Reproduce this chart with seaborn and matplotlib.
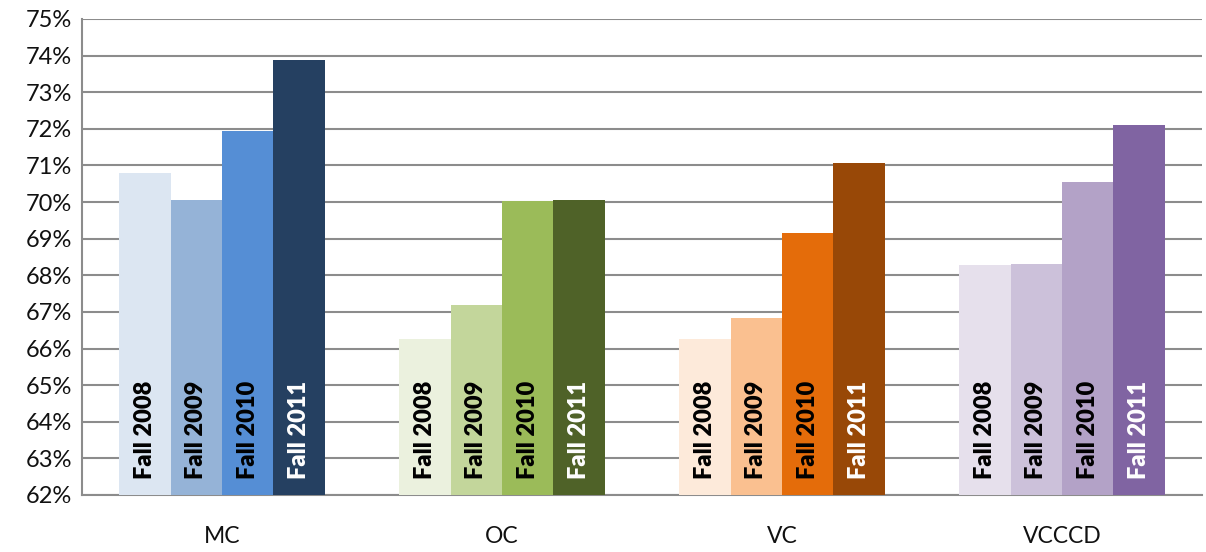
import numpy as np
import pandas as pd
import matplotlib
matplotlib.use("Agg")
import matplotlib.pyplot as plt
import seaborn as sns
from matplotlib.ticker import PercentFormatter

# ----------------------------
# Data
# ----------------------------
campuses = ["MC", "OC", "VC", "VCCCD"]
terms = ["Fall 2008", "Fall 2009", "Fall 2010", "Fall 2011"]
mc = [70.8, 70.06, 71.95, 73.88]
oc = [66.26, 67.2, 70.03, 70.06]
vc = [66.26, 66.84, 69.16, 71.08]
vcccd = [68.28, 68.31, 70.55, 72.1]

colors = {
    "MC": ["#DCE6F2", "#95B3D7", "#558ED5", "#254061"],
    "OC": ["#EBF1DE", "#C3D69B", "#9BBB59", "#4F6228"],
    "VC": ["#FDEADA", "#FAC090", "#E46C0A", "#984807"],
    "VCCCD": ["#E6E0EC", "#CCC1DA", "#B3A2C7", "#8064A2"],
}
label_colors = ["black", "black", "black", "white"]

rows = []
for camp, vals in zip(campuses, [mc, oc, vc, vcccd]):
    for t, v in zip(terms, vals):
        rows.append({"campus": camp, "term": t, "rate": v})
df = pd.DataFrame(rows)

# ----------------------------
# Plot
# ----------------------------
sns.set_style("white")
plt.rcParams["font.family"] = ["Lato", "DejaVu Sans"]

fig = plt.figure(figsize=(12.06, 5.52), dpi=100)
ax = fig.add_axes([0.068, 0.1033, 0.9287, 0.8623])

sns.barplot(data=df, x="campus", y="rate", hue="term", order=campuses,
            hue_order=terms, width=0.735, dodge=True, legend=False,
            saturation=1, ax=ax, zorder=3)

# recolor each bar per campus and add rotated term labels
for j, cont in enumerate(ax.containers):
    for i, patch in enumerate(cont.patches):
        patch.set_facecolor(colors[campuses[i]][j])
        patch.set_edgecolor("none")
        x = patch.get_x() + patch.get_width() / 2
        ax.text(x, 62.45, terms[j], rotation=90, ha="center", va="bottom",
                fontsize=17, fontweight="heavy", color=label_colors[j], zorder=4)

ax.set_ylim(62, 75)
ax.set_xlim(-0.5, 3.5)
ax.set_yticks(np.arange(62, 76, 1))
ax.yaxis.set_major_formatter(PercentFormatter(decimals=0))
ax.grid(axis="y", color="#8C8C8C", linewidth=1.5, zorder=0)
ax.set_axisbelow(True)

for s in ["top", "right"]:
    ax.spines[s].set_visible(False)
ax.spines["left"].set_color("#8C8C8C")
ax.spines["bottom"].set_color("#8C8C8C")
ax.spines["left"].set_linewidth(1.5)
ax.spines["bottom"].set_linewidth(1.5)

ax.tick_params(axis="y", labelsize=17, length=0, pad=7, labelcolor="#111111")
ax.tick_params(axis="x", labelsize=16.5, length=0, pad=22, labelcolor="#111111")
ax.set_xlabel("")
ax.set_ylabel("")

fig.savefig("out.png", dpi=100)
